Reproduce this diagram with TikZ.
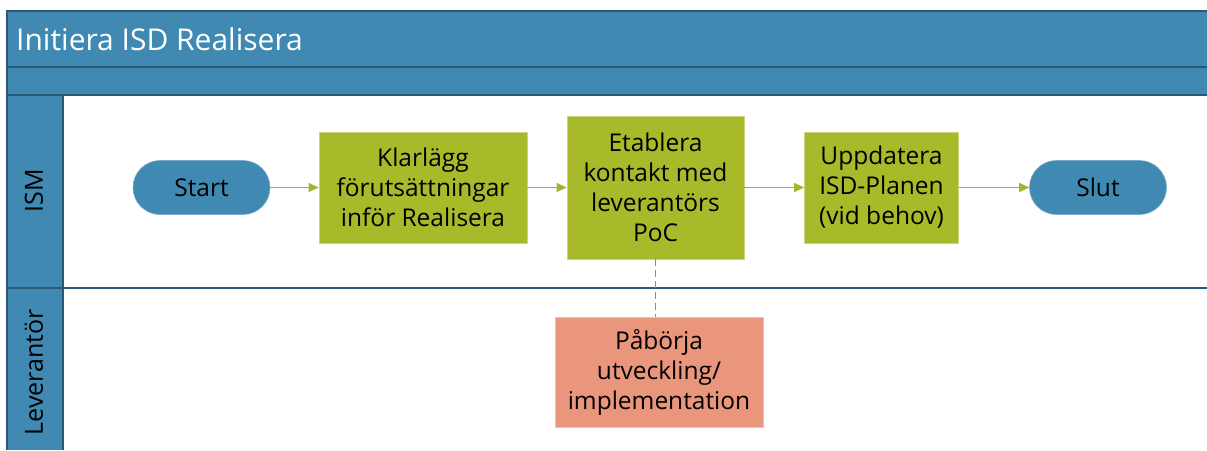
\documentclass[tikz,border=0pt]{standalone}
\usepackage{fontspec}
\setmainfont{Open Sans}
\usetikzlibrary{arrows.meta}
\definecolor{laneblue}{HTML}{3F89B3}
\definecolor{laneedge}{HTML}{2B5876}
\definecolor{taskgreen}{HTML}{A8B92A}
\definecolor{flowgreen}{HTML}{A3B530}
\definecolor{tasksalmon}{HTML}{EA967D}
\definecolor{dashgray}{HTML}{8C8C8C}
\tikzset{
  lanefill/.style={fill=laneblue},
  laneline/.style={draw=laneedge, line width=1.2pt},
  boxtext/.style={align=center, font=\fontsize{24.5}{30}\selectfont, text=black, inner sep=0pt},
  task/.style={boxtext, fill=taskgreen, draw=taskgreen!60!white, line width=0.6pt},
  suppliertask/.style={boxtext, fill=tasksalmon, draw=tasksalmon!60!white, line width=0.6pt},
  terminal/.style={boxtext, fill=laneblue, draw=laneblue!70!white, line width=0.6pt,
    minimum width=137pt, minimum height=54pt, rounded corners=27pt},
  flow/.style={draw=flowgreen, line width=1pt, -{Triangle[length=10pt,width=9pt]}},
  lanelabel/.style={rotate=90, font=\fontsize{25}{30}\selectfont, text=black},
}
\begin{document}
\begin{tikzpicture}[x=1pt,y=-1pt]
\useasboundingbox (0,0) rectangle (1207,450);
% pool header bands and lane header column
\fill[lanefill] (7,11) rectangle (1207,95);
\fill[lanefill] (7,95) rectangle (63,450);
\draw[laneline] (1207,11) -- (7,11) -- (7,450);
\draw[laneline] (7,67) -- (1207,67);
\draw[laneline] (7,95) -- (1207,95);
\draw[laneline] (63,95) -- (63,450);
\draw[laneline] (7,288) -- (1207,288);

\node[anchor=west, text=white, font=\fontsize{30}{36}\selectfont, inner sep=0pt] (title) at (16,39) {Initiera ISD Realisera};

\node[lanelabel] (ism) at (34,191) {ISM};
\node[lanelabel] (lev) at (34,372) {Leverantör};

% tasks
\node[terminal] (start) at (201.5,187.5) {Start};
\node[task, minimum width=208pt, minimum height=111pt] (klar) at (423,187.5) {Klarlägg\\förutsättningar\\inför Realisera};
\node[task, minimum width=177pt, minimum height=143pt] (etab) at (655.5,187.5) {Etablera\\kontakt med\\leverantörs\\PoC};
\node[task, minimum width=154pt, minimum height=111pt] (upp) at (881.5,187.5) {Uppdatera\\ISD-Planen\\(vid behov)};
\node[terminal] (slut) at (1098,187.5) {Slut};
\node[suppliertask, minimum width=208pt, minimum height=110pt] (pab) at (659,372) {Påbörja\\utveckling/\\implementation};

% flows
\draw[flow] (start) -- (klar);
\draw[flow] (klar) -- (etab);
\draw[flow] (etab) -- (upp);
\draw[flow] (upp) -- (slut);
\draw[dashgray, line width=0.8pt, dash pattern=on 7pt off 4pt] (etab.south) -- (etab.south |- pab.north);
\end{tikzpicture}
\end{document}
